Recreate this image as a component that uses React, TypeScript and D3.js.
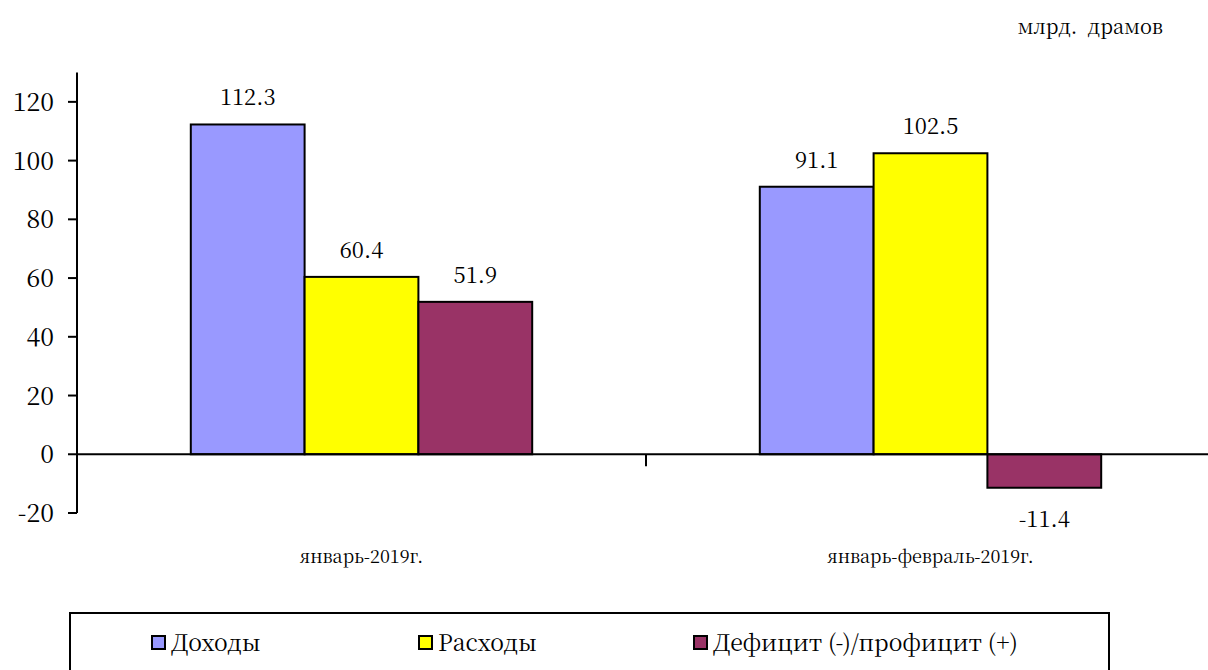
import * as d3 from 'd3'

const categories = ['январь-2019г.', 'январь-февраль-2019г.']
const seriesNames = ['Доходы', 'Расходы', 'Дефицит (-)/профицит (+)']
const seriesColors = ['#9999ff', '#ffff00', '#993366']
const incomeValues = [112.3, 91.1]
const expenseValues = [60.4, 102.5]
const balanceValues = [51.9, -11.4]
const yTicks = [-20, 0, 20, 40, 60, 80, 100, 120]
const unitLabel = 'млрд.  драмов'

const W = 1208
const H = 670
const serif = 'Noto Serif CJK SC'

export default function App() {
  const series = [incomeValues, expenseValues, balanceValues]

  const x0 = d3
    .scaleBand<string>()
    .domain(categories)
    .range([77, 1215])
    .paddingInner(0.4)
    .paddingOuter(0.2)

  const x1 = d3
    .scaleBand<number>()
    .domain(d3.range(series.length))
    .range([0, x0.bandwidth()])

  const y = d3.scaleLinear().domain([-20, 130]).range([513, 72.5])
  const y0 = y(0)

  // divider tick between the two categories
  const midTick = (x0(categories[0])! + x0(categories[1])! + x0.bandwidth()) / 2

  return (
    <svg
      width={W}
      height={H}
      style={{ position: 'absolute', left: 0, top: 0, display: 'block', background: '#fff' }}
    >
      <text
        x={1163}
        y={34}
        textAnchor="end"
        fontFamily={serif}
        fontSize={20}
        fill="#000"
        style={{ whiteSpace: 'pre' }}
      >
        {unitLabel}
      </text>

      {/* bars */}
      {categories.map((c, ci) =>
        series.map((vals, si) => {
          const v = vals[ci]
          const bx = x0(c)! + x1(si)!
          const top = Math.min(y(v), y0)
          const h = Math.abs(y(v) - y0)
          return (
            <g key={`${ci}-${si}`}>
              <rect
                x={bx}
                y={top}
                width={x1.bandwidth()}
                height={h}
                fill={seriesColors[si]}
                stroke="#000"
                strokeWidth={2}
              />
              <text
                x={bx + x1.bandwidth() / 2}
                y={v >= 0 ? y(v) - 19 : y(v) + 39}
                textAnchor="middle"
                fontFamily={serif}
                fontSize={22}
                fill="#000"
              >
                {v.toFixed(1)}
              </text>
            </g>
          )
        })
      )}

      {/* y axis */}
      <line x1={77} x2={77} y1={y(130)} y2={y(-20)} stroke="#000" strokeWidth={2} />
      {yTicks.map((t) => (
        <g key={t}>
          <line x1={68} x2={77} y1={y(t)} y2={y(t)} stroke="#000" strokeWidth={2} />
          <text
            x={54}
            y={y(t)}
            dy="0.36em"
            textAnchor="end"
            fontFamily={serif}
            fontSize={25}
            fill="#000"
          >
            {t}
          </text>
        </g>
      ))}

      {/* x axis */}
      <line x1={77} x2={W} y1={y0} y2={y0} stroke="#000" strokeWidth={2} />
      <line x1={midTick} x2={midTick} y1={y0} y2={y0 + 12} stroke="#000" strokeWidth={2} />
      {categories.map((c) => (
        <text
          key={c}
          x={x0(c)! + x0.bandwidth() / 2}
          y={563}
          textAnchor="middle"
          fontFamily={serif}
          fontSize={18}
          fill="#000"
        >
          {c}
        </text>
      ))}

      {/* legend */}
      <rect x={70} y={613} width={1039} height={80} fill="#fff" stroke="#000" strokeWidth={2} />
      {seriesNames.map((name, i) => {
        const lx = [152, 419, 694][i]
        return (
          <g key={name}>
            <rect x={lx} y={636} width={13} height={13} fill={seriesColors[i]} stroke="#000" strokeWidth={2} />
            <text x={lx + 19} y={651} fontFamily={serif} fontSize={23} fill="#000">
              {name}
            </text>
          </g>
        )
      })}
    </svg>
  )
}
